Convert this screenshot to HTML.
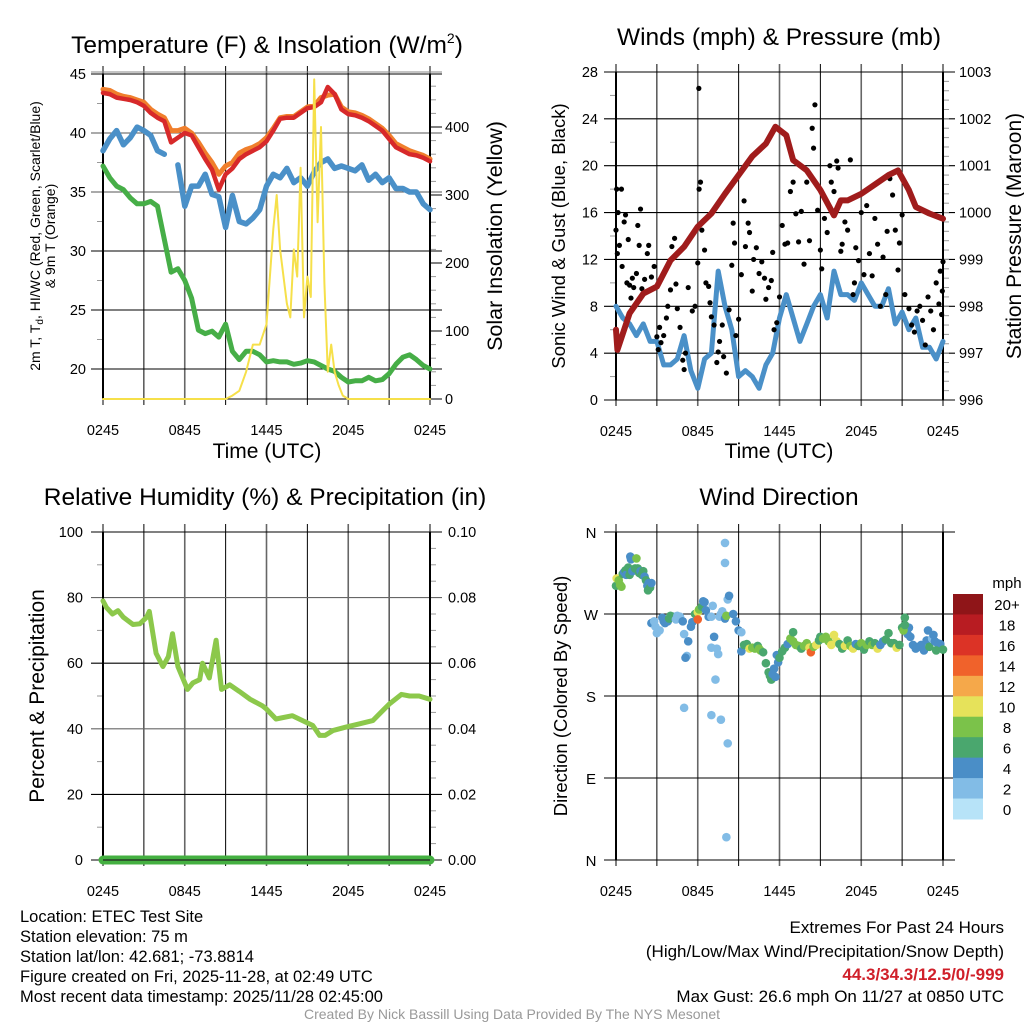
<!DOCTYPE html>
<html><head><meta charset="utf-8"><style>
body{margin:0;background:#fff;width:1024px;height:1024px;overflow:hidden}
svg{display:block;font-family:"Liberation Sans",sans-serif}
</style></head><body>
<svg id="c" width="1024" height="1024" viewBox="0 0 1024 1024" xmlns="http://www.w3.org/2000/svg">
<g font-size="24.5" text-anchor="middle" fill="#000">
<text x="267" y="53">Temperature (F) &amp; Insolation (W/m<tspan font-size="14" dy="-10">2</tspan><tspan dy="10">)</tspan></text>
<text x="779" y="45">Winds (mph) &amp; Pressure (mb)</text>
<text x="265" y="505">Relative Humidity (%) &amp; Precipitation (in)</text>
<text x="779" y="505">Wind Direction</text>
</g>
<g font-size="16.5" fill="#000">
<text x="20" y="922">Location: ETEC Test Site</text>
<text x="20" y="942">Station elevation: 75 m</text>
<text x="20" y="962">Station lat/lon: 42.681; -73.8814</text>
<text x="20" y="982">Figure created on Fri, 2025-11-28, at 02:49 UTC</text>
<text x="20" y="1002">Most recent data timestamp: 2025/11/28 02:45:00</text>
<text x="1004" y="933" text-anchor="end" font-size="17">Extremes For Past 24 Hours</text>
<text x="1004" y="957" text-anchor="end" font-size="17">(High/Low/Max Wind/Precipitation/Snow Depth)</text>
<text x="1004" y="980" text-anchor="end" font-size="17" fill="#d0202a" font-weight="bold">44.3/34.3/12.5/0/-999</text>
<text x="1004" y="1002" text-anchor="end" font-size="17">Max Gust: 26.6 mph On 11/27 at 0850 UTC</text>
<text x="512" y="1019" text-anchor="middle" font-size="14" fill="#999">Created By Nick Bassill Using Data Provided By The NYS Mesonet</text>
</g>
</svg>
<script>
// ---- data (time in hours since 0245 UTC) ----
const xTickLabels=["0245","0845","1445","2045","0245"];
const halfHourT=Array.from({length:49},(_,i)=>i*0.5);
const tempRed=[43.4,43.3,43.0,42.9,42.8,42.6,42.3,41.7,41.3,41.0,39.2,39.6,40.0,39.8,38.8,37.8,36.9,35.2,36.5,37.0,37.8,38.2,38.5,38.8,39.3,40.2,41.2,41.3,41.3,41.7,42.1,42.2,42.6,43.9,43.3,42.0,41.6,41.5,41.3,41.0,40.6,40.2,39.5,38.8,38.5,38.2,38.1,37.9,37.6];
const temp9mOrange=[43.7,43.6,43.3,43.1,43.0,42.8,42.6,42.0,41.6,41.3,40.2,40.2,40.4,40.0,39.2,38.3,37.5,36.5,37.2,37.5,38.3,38.6,38.8,39.1,39.6,40.4,41.3,41.4,41.4,41.8,42.2,42.3,43.0,43.2,43.3,42.2,41.8,41.7,41.5,41.2,40.8,40.4,39.8,39.1,38.8,38.5,38.3,38.1,37.8];
const hiwcBlue=[38.5,39.5,40.2,39.0,39.6,40.5,40.2,39.8,38.5,38.2,null,37.3,33.8,35.5,35.5,36.5,34.8,34.6,32.0,34.7,32.5,32.3,32.8,33.5,35.5,36.5,36.2,37.0,35.8,36.2,35.5,36.7,37.5,37.8,37.0,37.2,37.0,36.8,37.3,36.0,36.5,35.8,36.2,35.3,35.3,35.0,35.0,34.0,33.5];
const dewGreen=[37.2,36.2,35.5,35.2,34.5,34.0,34.0,34.2,33.8,31.0,28.2,28.5,27.5,26.0,23.3,23.0,23.2,22.7,23.8,21.5,20.8,21.5,21.5,21.2,20.6,20.7,20.6,20.6,20.4,20.5,20.7,20.6,20.3,20.0,19.8,19.3,18.9,19.0,19.0,19.3,19.0,19.1,19.6,20.4,21.0,21.2,20.8,20.3,20.0];
const solarT=[0,9,9.5,10,10.5,11,11.5,12,12.5,12.75,13,13.5,13.75,14,14.25,14.5,14.75,15,15.25,15.5,15.75,16,16.25,16.5,16.75,17,17.3,17.6,18,24];
const solarV=[0,0,5,12,40,80,80,110,250,300,220,140,120,220,180,340,120,180,150,470,260,400,170,40,80,40,20,5,0,0];
const pressT=[0,0.1,1,2,3,4,5,6,7,8,9,10,11,11.7,12.5,13,14,15,16,16.5,17,18,19,20,20.7,21.5,22,23,24];
const pressV=[997.5,997.07,997.85,998.27,998.42,998.98,999.27,999.7,999.98,1000.4,1000.8,1001.2,1001.47,1001.83,1001.65,1001.12,1000.9,1000.48,999.94,1000.26,1000.26,1000.4,1000.6,1000.8,1000.9,1000.48,1000.12,999.98,999.87];
const windBlue=[8,7,6.5,5.5,6.5,5,5,3,3,3.5,5.5,2.5,1,3.5,4,11,8,6,2,2.5,2,1,3,4,7,9,7,5,6.5,8,9,7,11,9,9,8.5,10,9,8,8,9.5,6.5,7.5,6,7,4.5,4.5,3.5,5];
const gustT=[0,0.05,0.1,0.15,0.25,0.4,0.45,0.6,0.7,0.8,0.9,1.0,1.1,1.2,1.3,1.5,1.6,1.7,1.8,1.9,2.1,2.3,2.4,2.6,2.8,3.0,3.1,3.2,3.3,3.5,3.7,3.8,4.0,4.1,4.3,4.4,4.5,4.7,4.9,5.0,5.1,5.3,5.6,5.8,6.0,6.1,6.2,6.3,6.5,6.6,6.8,6.9,7.0,7.2,7.4,7.5,7.6,7.8,7.9,8.1,8.3,8.5,8.6,8.7,8.8,9.0,9.2,9.4,9.5,9.7,9.8,10.0,10.1,10.3,10.5,10.7,10.9,11.0,11.2,11.4,11.5,11.6,11.8,12.0,12.2,12.4,12.6,12.8,13.0,13.2,13.4,13.6,13.8,14.0,14.2,14.4,14.5,14.6,14.8,15.0,15.1,15.3,15.5,15.7,15.8,16.0,16.2,16.3,16.5,16.6,16.8,17.0,17.2,17.4,17.5,17.6,17.8,18.0,18.2,18.4,18.6,18.8,19.0,19.2,19.4,19.6,19.8,19.9,20.1,20.3,20.5,20.7,20.8,21.0,21.2,21.5,21.7,21.9,22.1,22.3,22.5,22.7,22.9,23.1,23.3,23.5,23.7,23.8,23.9,24.0,23.95,6.08];
const gustV=[14.5,18,12.5,16,13.2,18,11.4,15.2,15.8,10,13.7,9.8,8.7,10.4,9.6,10.8,14.9,13.2,16.3,9.5,10.3,12.5,13.2,10.5,11.4,5.4,4.3,6.2,4.9,5.5,7.0,8.0,9.4,13.1,13.8,9.9,7.8,6.2,3.4,2.6,4.0,9.6,7.6,8.0,11.7,18,18.6,14.5,12.8,10,9.7,8.3,7.1,6.4,3.2,4.1,5.0,6.4,3.7,2.3,7.7,11.5,15.1,13.4,5.5,6.9,10.7,17.0,13.1,15.1,14.3,9.3,12.0,13.0,10.8,11.8,10.4,8.6,9.6,10.2,12.6,6.0,6.6,8.8,14.9,13.3,13.4,17.8,18.6,15.9,13.5,16.1,11.6,18.6,13.6,23.2,21.5,25.2,16.2,12.8,11.2,15.5,14.3,20.0,18.6,17.8,20.4,19.8,12.7,13.3,15.2,14.5,20.5,9.0,10.0,13.0,11.9,16.0,10.7,16.6,12.5,10.6,15.5,13.3,8.0,12.2,9.0,14.4,18.9,17.5,14.5,11.1,13.4,15.8,9.0,7.8,6.4,5.8,7.6,8.0,6.8,4.7,8.8,7.6,6.0,10.0,8.2,11.0,7.3,11.8,9.3,26.6];
const rhT=[0,0.25,0.7,1.1,1.5,2.2,2.7,3.2,3.4,3.9,4.4,4.8,5.1,5.5,6.2,6.6,7.1,7.3,7.8,8.3,8.7,9.3,10,10.8,11.7,12,12.7,13.9,14.9,15.4,15.9,16.3,16.9,17.8,18.8,19.8,21,21.9,22.5,23.2,24];
const rhV=[79,77,75,76,74,71.8,72,74,75.8,63,59,62,69,59,52,54,55,60,55.5,67,52,53.4,51.4,49,47,46,43,44,42,41,38,38,39.5,40.5,41.5,42.5,47.5,50.5,50,50,49];
const precipT=[0,24];
const precipV=[0,0];
const dirTicks=["N","W","S","E","N"];
const dirT=[0,0.05,0.2,0.3,0.4,0.5,0.6,0.7,0.75,0.9,1.0,1.05,1.1,1.2,1.4,1.5,1.6,1.7,1.8,1.9,2.0,2.1,2.2,2.3,2.35,2.4,2.5,2.6,2.6,2.8,2.9,3.0,3.2,3.4,3.5,3.6,3.8,3.9,4.2,4.0,4.4,4.5,4.7,4.9,5.0,5.2,5.1,5.3,5.5,5.6,5.8,6.0,6.0,6.1,6.3,6.5,6.4,6.6,6.8,7.0,7.1,7.2,7.4,7.3,7.0,7.6,7.7,7.8,8.0,8.1,8.2,8.3,8.6,8.8,9.0,9.2,8.0,8.0,7.7,8.2,8.1,5.0,7.0,7.5,9.2,9.4,9.6,9.8,10.0,10.2,10.4,10.5,10.6,10.8,11.0,11.2,11.3,11.4,11.5,11.6,11.7,11.8,11.9,12.0,12.2,12.4,12.6,12.8,13.0,13.0,13.2,13.4,13.6,13.8,14.0,14.2,14.3,14.5,14.7,14.9,15.0,15.2,15.4,15.6,15.8,16.0,16.2,16.4,16.6,16.8,17.0,17.2,17.4,17.6,17.8,18.0,18.2,18.4,18.6,18.8,19.0,19.2,19.4,19.6,19.8,20.0,20.2,20.4,20.6,20.8,21.0,21.2,21.4,21.5,21.6,21.8,22.0,22.2,22.4,22.6,22.8,23.0,23.2,23.4,23.6,23.8,24.0,23.3,22.9,23.5,21.1,21.2];
const dirV=[301,309,307,302,300,314,316,318,313,321,313,333,330,317,320,331,320,315,317,313,317,311,307,301,296,304,299,304,260,262,256,249,252,266,262,260,262,265,267,268,264,268,267,262,248,224,222,240,256,261,270,272,264,275,278,283,284,274,267,267,279,245,232,198,159,267,270,273,265,268,286,290,270,262,252,250,348,326,154,128,25,167,233,226,229,236,237,232,233,232,235,232,230,228,216,206,202,198,204,210,201,225,217,222,229,233,237,243,250,240,236,235,232,235,238,233,228,234,236,241,245,243,245,240,236,247,240,237,232,235,241,235,232,237,235,238,231,236,240,236,238,232,236,240,242,249,238,238,233,236,255,266,248,255,245,236,232,234,236,230,241,234,243,240,238,237,231,247,252,230,252,258];
const dirSpd=[6,10,8,8,8,6,4,6,4,6,6,4,4,4,6,8,6,6,4,6,6,4,6,4,6,4,6,4,4,2,2,2,2,4,4,4,4,6,4,6,2,2,2,4,2,2,4,4,4,4,6,10,14,8,6,4,4,4,4,2,2,4,2,2,2,2,2,2,4,8,2,4,4,4,4,2,2,2,2,2,2,2,2,2,4,6,6,10,8,8,6,8,8,6,6,6,6,6,4,4,4,4,4,6,6,6,4,8,6,8,8,8,6,8,8,10,14,8,10,6,6,8,8,8,10,10,10,6,6,10,6,8,10,4,6,8,6,8,6,8,6,10,4,4,6,6,6,6,10,6,6,6,4,4,4,4,4,4,4,4,4,6,2,4,4,4,6,4,4,6,8,6];
const cbLabels=["20+","18","16","14","12","10","8","6","4","2","0"];
const cbColors=["#8f1518","#b81c22","#dc3326","#f0622b","#f5a84a","#e6e25a","#7bc24a","#4aa76e","#4a8ec7","#82bce6","#b7e3f8"];

// ---- drawing ----
const NS="http://www.w3.org/2000/svg";
const svg=document.getElementById('c');
function mk(tag,attrs,parent){const e=document.createElementNS(NS,tag);for(const k in attrs)e.setAttribute(k,attrs[k]);(parent||svg).appendChild(e);return e;}
function grp(name){const g=mk('g',{});


return g;}
function txt(g,x,y,s,o){const t=mk('text',Object.assign({x:x,y:y},o||{}),g);t.textContent=s;return t;}

function panel(name,x0,x1,top,bot){
  const g=grp(name);
  const X=t=>x0+t/24*(x1-x0);
  for(let i=0;i<=8;i++){const x=X(i*3);const major=(i%2==0&&i>0&&i<8);
    const l=mk('line',{x1:x,x2:x,y1:top-8,y2:bot+6,stroke:major?'#666':'#000','stroke-width':major?1.6:1},g);
    
    }
  for(let i=0;i<5;i++){const t=txt(g,X(i*6),bot+36,xTickLabels[i],{'font-size':14.5,'text-anchor':'middle'});
    
    }
  return {g,X};
}
function hgrid(g,x0,x1,y,col){const l=mk('line',{x1:x0-12,x2:x1+12,y1:y,y2:y,stroke:col||'#000','stroke-width':1.1},g);
  
  }
function poly(g,xs,ys,color,w,name){let d='',pen=false;for(let i=0;i<xs.length;i++){if(ys[i]==null){pen=false;continue;}d+=(pen?'L':'M')+xs[i].toFixed(1)+','+ys[i].toFixed(1);pen=true;}
  const p=mk('path',{d:d,fill:'none',stroke:color,'stroke-width':w,'stroke-linejoin':'round','stroke-linecap':'round'},g);
  
  
  return p;}
function minor(g,x,ys,dir){ys.forEach(y=>{mk('line',{x1:x,x2:x+dir*6,y1:y,y2:y,stroke:'#999','stroke-width':1},g);});}

// Panel 1 temperature
{const x0=103,x1=430,top=74,bot=399;const P=panel('temperature-panel',x0,x1,top,bot);const g=P.g,X=P.X;
 const YT=v=>369-(v-20)*11.8, YS=w=>399-w*0.68;
 [20,25,30,35,40,45].forEach(v=>{hgrid(g,x0,x1,YT(v),(v==35||v==40)?'#555':'#000');const t=txt(g,86,YT(v)+5,String(v),{'font-size':14.5,'text-anchor':'end'});
   
   });
 hgrid(g,x0,x1,top-2,'#888');
 [0,100,200,300,400].forEach(w=>{mk('line',{x1:x1,x2:x1+12,y1:YS(w),y2:YS(w),stroke:'#000'},g);const t=txt(g,445,YS(w)+5,String(w),{'font-size':14.5});
   
   });
 const mys=[];for(let w=20;w<480;w+=20)if(w%100)mys.push(YS(w));minor(g,x1,mys,1);
 minor(g,x0,[22.5,27.5,32.5,37.5,42.5].map(YT),-1);
 mk('line',{x1:x0,x2:x0,y1:top,y2:bot,stroke:'#000','stroke-width':2},g);
 mk('line',{x1:x1,x2:x1,y1:top,y2:bot,stroke:'#000','stroke-width':2},g);
 mk('line',{x1:x0,x2:x1,y1:bot,y2:bot,stroke:'#000','stroke-width':1},g);
 poly(g,halfHourT.map(X),dewGreen.map(YT),'#46ae47',5,'dewpoint-line');
 poly(g,halfHourT.map(X),hiwcBlue.map(v=>v==null?null:YT(v)),'#4a90c8',5.5,'heat-index-windchill-line');
 poly(g,halfHourT.map(X),temp9mOrange.map(YT),'#f07f2c',5,'temp-9m-line');
 poly(g,halfHourT.map(X),tempRed.map(YT),'#d7292a',4.5,'temp-2m-line');
 poly(g,solarT.map(X),solarV.map(YS),'#f6e04a',2,'solar-insolation-line');
 let t=txt(g,267,458,'Time (UTC)',{'font-size':21,'text-anchor':'middle'});
 
 
 t=txt(g,0,0,'2m T, T',{'font-size':14,'text-anchor':'middle',transform:'translate(40,236) rotate(-90)'});
 const s=mk('tspan',{'font-size':10,dy:3},t);s.textContent='d';const s2=mk('tspan',{dy:-3},t);s2.textContent=', HI/WC (Red, Green, Scarlet/Blue)';
 
 
 t=txt(g,0,0,'& 9m T (Orange)',{'font-size':14,'text-anchor':'middle',transform:'translate(55,236) rotate(-90)'});
 
 
 t=txt(g,0,0,'Solar Insolation (Yellow)',{'font-size':21.5,'text-anchor':'middle',transform:'translate(502,236) rotate(-90)'});
 
 
}
// Panel 2 winds
{const x0=616,x1=943,top=72,bot=400;const P=panel('wind-panel',x0,x1,top,bot);const g=P.g,X=P.X;
 const YW=v=>bot-v*(bot-top)/28, YP=p=>bot-(p-996)*(bot-top)/7;
 [0,4,8,12,16,20,24,28].forEach(v=>{hgrid(g,x0,x1,YW(v));const t=txt(g,598,YW(v)+5,String(v),{'font-size':14.5,'text-anchor':'end'});
   
   });
 [996,997,998,999,1000,1001,1002,1003].forEach(p=>{const t=txt(g,959,YP(p)+5,String(p),{'font-size':14.5});
   
   });
 const mys=[];for(let p=996.2;p<1003;p+=0.2)mys.push(YP(p));minor(g,x1,mys,1);
 minor(g,x0,[2,6,10,14,18,22,26].map(YW),-1);
 mk('line',{x1:x0,x2:x0,y1:top,y2:bot,stroke:'#000','stroke-width':2},g);
 mk('line',{x1:x1,x2:x1,y1:top,y2:bot,stroke:'#000','stroke-width':2},g);
 poly(g,halfHourT.map(X),windBlue.map(YW),'#4a90c8',5,'sustained-wind-line');
 for(let i=0;i<gustT.length;i++){const c=mk('circle',{cx:X(gustT[i]),cy:YW(gustV[i]),r:2.6,fill:'#000'},g);
   
   }
 poly(g,pressT.map(X),pressV.map(YP),'#a01c1c',6,'pressure-line');
 let t=txt(g,779,458,'Time (UTC)',{'font-size':21,'text-anchor':'middle'});
 
 
 t=txt(g,0,0,'Sonic Wind & Gust (Blue, Black)',{'font-size':18.5,'text-anchor':'middle',transform:'translate(565,236) rotate(-90)'});
 
 
 t=txt(g,0,0,'Station Pressure (Maroon)',{'font-size':21,'text-anchor':'middle',transform:'translate(1021,236) rotate(-90)'});
 
 
}
// Panel 3 RH
{const x0=103,x1=430,top=532,bot=860;const P=panel('rh-panel',x0,x1,top,bot);const g=P.g,X=P.X;
 const Y=v=>bot-v*(bot-top)/100;
 [0,20,40,60,80,100].forEach(v=>{hgrid(g,x0,x1,Y(v),(v==40||v==80)?'#666':'#000');const t=txt(g,83,Y(v)+5,String(v),{'font-size':14.5,'text-anchor':'end'});
   
   
   const t2=txt(g,448,Y(v)+5,(v/1000).toFixed(2),{'font-size':14.5});
   
   });
 minor(g,x0,[10,30,50,70,90].map(Y),-1);
 minor(g,x1,[5,10,15,25,30,35,45,50,55,65,70,75,85,90,95].map(Y),1);
 mk('line',{x1:x0,x2:x0,y1:top,y2:bot,stroke:'#000','stroke-width':2},g);
 mk('line',{x1:x1,x2:x1,y1:top,y2:bot,stroke:'#000','stroke-width':2},g);
 poly(g,rhT.map(X),rhV.map(Y),'#8cc84b',5,'rh-line');
 poly(g,precipT.map(X),precipV.map(Y),'#44b041',9,'precip-line');
 mk('line',{x1:x0,x2:x1,y1:bot,y2:bot,stroke:'#222','stroke-width':1.2},g);
 const t=txt(g,0,0,'Percent & Precipitation',{'font-size':21,'text-anchor':'middle',transform:'translate(44,696) rotate(-90)'});
 
 
}
// Panel 4 direction
{const x0=616,x1=943,top=532,bot=860;const P=panel('direction-panel',x0,x1,top,bot);const g=P.g,X=P.X;
 const Y=d=>bot-d*(bot-top)/360;
 dirTicks.forEach((s,i)=>{const d=360-i*90;hgrid(g,x0,x1,Y(d));const t=txt(g,591,Y(d)+6,s,{'font-size':15,'text-anchor':'middle'});
   
   });
 mk('line',{x1:x0,x2:x0,y1:top,y2:bot,stroke:'#000','stroke-width':2},g);
 mk('line',{x1:x1,x2:x1,y1:top,y2:bot,stroke:'#000','stroke-width':2},g);
 const colorFor=s=>cbColors[10-Math.max(0,Math.min(10,Math.floor(s/2)))];
 for(let i=0;i<dirT.length;i++){const c=mk('circle',{cx:X(dirT[i]),cy:Y(dirV[i]),r:4.3,fill:colorFor(dirSpd[i])},g);
   
   }
 const t=txt(g,0,0,'Direction (Colored By Speed)',{'font-size':18.5,'text-anchor':'middle',transform:'translate(567,696) rotate(-90)'});
 
 
 const cb=grp('speed-colorbar');
 for(let i=0;i<cbColors.length;i++){const r=mk('rect',{x:953,y:594+i*(225/11),width:30,height:225/11+0.5,fill:cbColors[i]},cb);
   
   
   const l=txt(cb,1007,594+(i+0.5)*(225/11)+6,cbLabels[i],{'font-size':15,'text-anchor':'middle'});
   
   }
 const m=txt(cb,1007,588,'mph',{'font-size':15,'text-anchor':'middle'});
 
 
}
</script>
</body></html>
